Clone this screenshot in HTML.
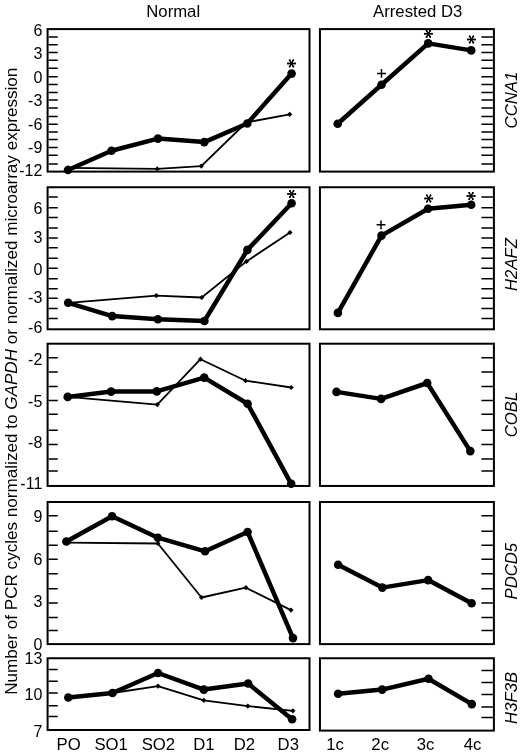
<!DOCTYPE html><html><head><meta charset="utf-8"><style>html,body{margin:0;padding:0;background:#fff;}svg{display:block;will-change:transform;}text{font-family:"Liberation Sans", sans-serif;fill:#000;}</style></head><body>
<svg width="520" height="756" viewBox="0 0 520 756">
<rect width="520" height="756" fill="#fff"/>
<text transform="translate(173.2 16.5) scale(1.045 1)" font-size="16" text-anchor="middle">Normal</text>
<text transform="translate(417.65 16.5) scale(1.045 1)" font-size="16" text-anchor="middle">Arrested D3</text>
<rect x="47.6" y="29.1" width="261.9" height="142.5" fill="none" stroke="#000" stroke-width="2"/>
<rect x="319.95" y="29.1" width="173.95" height="142.5" fill="none" stroke="#000" stroke-width="2"/>
<path d="M48.6 37.1H57.8M48.6 44.8H57.8M48.6 52.5H57.8M48.6 60.3H57.8M48.6 68.3H57.8M48.6 76.8H57.8M48.6 84.5H57.8M48.6 92.5H57.8M48.6 100.1H57.8M48.6 107.9H57.8M48.6 116.5H57.8M48.6 124.3H57.8M48.6 132H57.8M48.6 139.5H57.8M48.6 147.5H57.8M48.6 155.2H57.8M48.6 164H57.8M492.9 37.1H481.4M492.9 44.8H481.4M492.9 52.5H481.4M492.9 60.3H481.4M492.9 68.3H481.4M492.9 76.8H481.4M492.9 84.5H481.4M492.9 92.5H481.4M492.9 100.1H481.4M492.9 107.9H481.4M492.9 116.5H481.4M492.9 124.3H481.4M492.9 132H481.4M492.9 139.5H481.4M492.9 147.5H481.4M492.9 155.2H481.4M492.9 164H481.4" stroke="#000" stroke-width="1.5" fill="none"/>
<text x="42.3" y="35.9" font-size="16" text-anchor="end">6</text>
<text x="42.3" y="59.3" font-size="16" text-anchor="end">3</text>
<text x="42.3" y="83" font-size="16" text-anchor="end">0</text>
<text x="42.3" y="106.25" font-size="16" text-anchor="end">-3</text>
<text x="42.3" y="129.8" font-size="16" text-anchor="end">-6</text>
<text x="42.3" y="153" font-size="16" text-anchor="end">-9</text>
<text x="42.3" y="176.3" font-size="16" text-anchor="end">-12</text>
<rect x="47.6" y="187.25" width="261.9" height="142.05" fill="none" stroke="#000" stroke-width="2"/>
<rect x="319.95" y="187.25" width="173.95" height="142.05" fill="none" stroke="#000" stroke-width="2"/>
<path d="M48.6 196.9H57.8M48.6 207.8H57.8M48.6 217.6H57.8M48.6 228.1H57.8M48.6 238H57.8M48.6 247.7H57.8M48.6 258.3H57.8M48.6 268.3H57.8M48.6 278.8H57.8M48.6 288.7H57.8M48.6 298.2H57.8M48.6 308.6H57.8M48.6 318.6H57.8M492.9 196.9H481.4M492.9 207.8H481.4M492.9 217.6H481.4M492.9 228.1H481.4M492.9 238H481.4M492.9 247.7H481.4M492.9 258.3H481.4M492.9 268.3H481.4M492.9 278.8H481.4M492.9 288.7H481.4M492.9 298.2H481.4M492.9 308.6H481.4M492.9 318.6H481.4" stroke="#000" stroke-width="1.5" fill="none"/>
<text x="42.3" y="213.9" font-size="16" text-anchor="end">6</text>
<text x="42.3" y="243.3" font-size="16" text-anchor="end">3</text>
<text x="42.3" y="274.5" font-size="16" text-anchor="end">0</text>
<text x="42.3" y="303.25" font-size="16" text-anchor="end">-3</text>
<text x="42.3" y="333.1" font-size="16" text-anchor="end">-6</text>
<rect x="47.6" y="343.7" width="261.9" height="142.25" fill="none" stroke="#000" stroke-width="2"/>
<rect x="319.95" y="343.7" width="173.95" height="142.25" fill="none" stroke="#000" stroke-width="2"/>
<path d="M48.6 357.8H57.8M48.6 372.1H57.8M48.6 386.4H57.8M48.6 400.4H57.8M48.6 414.3H57.8M48.6 430.3H57.8M48.6 444.4H57.8M48.6 458.9H57.8M48.6 471.1H57.8M492.9 357.8H481.4M492.9 372.1H481.4M492.9 386.4H481.4M492.9 400.4H481.4M492.9 414.3H481.4M492.9 430.3H481.4M492.9 444.4H481.4M492.9 458.9H481.4M492.9 471.1H481.4" stroke="#000" stroke-width="1.5" fill="none"/>
<text x="42.3" y="365.2" font-size="16" text-anchor="end">-2</text>
<text x="42.3" y="406.7" font-size="16" text-anchor="end">-5</text>
<text x="42.3" y="448" font-size="16" text-anchor="end">-8</text>
<text x="42.3" y="489.4" font-size="16" text-anchor="end">-11</text>
<rect x="47.6" y="502" width="261.9" height="142.1" fill="none" stroke="#000" stroke-width="2"/>
<rect x="319.95" y="502" width="173.95" height="142.1" fill="none" stroke="#000" stroke-width="2"/>
<path d="M48.6 515.8H57.8M48.6 531.2H57.8M48.6 545.3H57.8M48.6 559.3H57.8M48.6 573.8H57.8M48.6 588.7H57.8M48.6 603.1H57.8M48.6 617.4H57.8M48.6 630.6H57.8M492.9 515.8H481.4M492.9 531.2H481.4M492.9 545.3H481.4M492.9 559.3H481.4M492.9 573.8H481.4M492.9 588.7H481.4M492.9 603.1H481.4M492.9 617.4H481.4M492.9 630.6H481.4" stroke="#000" stroke-width="1.5" fill="none"/>
<text x="42.3" y="521.9" font-size="16" text-anchor="end">9</text>
<text x="42.3" y="564.5" font-size="16" text-anchor="end">6</text>
<text x="42.3" y="607" font-size="16" text-anchor="end">3</text>
<text x="42.3" y="649.9" font-size="16" text-anchor="end">0</text>
<rect x="47.6" y="658.25" width="261.9" height="71.75" fill="none" stroke="#000" stroke-width="2"/>
<rect x="319.95" y="658.25" width="173.95" height="72.35" fill="none" stroke="#000" stroke-width="2"/>
<path d="M48.6 669.4H57.8M48.6 681.2H57.8M48.6 693H57.8M48.6 705.8H57.8M48.6 716.4H57.8M492.9 670.4H481.4M492.9 682.4H481.4M492.9 694.4H481.4M492.9 707.1H481.4M492.9 717.4H481.4" stroke="#000" stroke-width="1.5" fill="none"/>
<text x="42.3" y="664.3" font-size="16" text-anchor="end">13</text>
<text x="42.3" y="700.4" font-size="16" text-anchor="end">10</text>
<text x="42.3" y="736.9" font-size="16" text-anchor="end">7</text>
<polyline points="68,167.8 157.3,168.9 201.3,166.1 246.2,122.5 289.7,114.3" fill="none" stroke="#000" stroke-width="1.8" stroke-linejoin="round"/>
<path d="M68 165.2L70.6 167.8L68 170.4L65.4 167.8ZM157.3 166.3L159.9 168.9L157.3 171.5L154.7 168.9ZM201.3 163.5L203.9 166.1L201.3 168.7L198.7 166.1ZM246.2 119.9L248.8 122.5L246.2 125.1L243.6 122.5ZM289.7 111.7L292.3 114.3L289.7 116.9L287.1 114.3Z" fill="#000"/>
<polyline points="68,170 111.5,150.7 157.9,138.6 204.3,142.1 247.3,123.5 291.6,73.6" fill="none" stroke="#000" stroke-width="4.5" stroke-linejoin="round"/>
<circle cx="68" cy="170" r="4.3"/><circle cx="111.5" cy="150.7" r="4.3"/><circle cx="157.9" cy="138.6" r="4.3"/><circle cx="204.3" cy="142.1" r="4.3"/><circle cx="247.3" cy="123.5" r="4.3"/><circle cx="291.6" cy="73.6" r="4.3"/>
<polyline points="337.7,123.7 381.5,84.8 428.2,43.4 471.2,50.4" fill="none" stroke="#000" stroke-width="4.5" stroke-linejoin="round"/>
<circle cx="337.7" cy="123.7" r="4.3"/><circle cx="381.5" cy="84.8" r="4.3"/><circle cx="428.2" cy="43.4" r="4.3"/><circle cx="471.2" cy="50.4" r="4.3"/>
<polyline points="68.2,302.8 156.3,295.6 201.7,297.5 246.5,261.4 290,232.5" fill="none" stroke="#000" stroke-width="1.8" stroke-linejoin="round"/>
<path d="M68.2 300.2L70.8 302.8L68.2 305.4L65.6 302.8ZM156.3 293L158.9 295.6L156.3 298.2L153.7 295.6ZM201.7 294.9L204.3 297.5L201.7 300.1L199.1 297.5ZM246.5 258.8L249.1 261.4L246.5 264L243.9 261.4ZM290 229.9L292.6 232.5L290 235.1L287.4 232.5Z" fill="#000"/>
<polyline points="68.2,302.8 112.2,316.1 157.9,319.2 204.4,321 247.4,249.9 291.6,203.2" fill="none" stroke="#000" stroke-width="4.5" stroke-linejoin="round"/>
<circle cx="68.2" cy="302.8" r="4.3"/><circle cx="112.2" cy="316.1" r="4.3"/><circle cx="157.9" cy="319.2" r="4.3"/><circle cx="204.4" cy="321" r="4.3"/><circle cx="247.4" cy="249.9" r="4.3"/><circle cx="291.6" cy="203.2" r="4.3"/>
<polyline points="337.9,312.9 381.5,235.6 428.1,208.7 471.2,204.8" fill="none" stroke="#000" stroke-width="4.5" stroke-linejoin="round"/>
<circle cx="337.9" cy="312.9" r="4.3"/><circle cx="381.5" cy="235.6" r="4.3"/><circle cx="428.1" cy="208.7" r="4.3"/><circle cx="471.2" cy="204.8" r="4.3"/>
<polyline points="67.7,396.9 157.3,404.6 200.5,359.2 245.6,380.7 291.2,387.5" fill="none" stroke="#000" stroke-width="1.8" stroke-linejoin="round"/>
<path d="M67.7 394.3L70.3 396.9L67.7 399.5L65.1 396.9ZM157.3 402L159.9 404.6L157.3 407.2L154.7 404.6ZM200.5 356.6L203.1 359.2L200.5 361.8L197.9 359.2ZM245.6 378.1L248.2 380.7L245.6 383.3L243 380.7ZM291.2 384.9L293.8 387.5L291.2 390.1L288.6 387.5Z" fill="#000"/>
<polyline points="67.7,396.9 111.1,391.6 156.8,391.4 204.2,377.6 247.6,403.8 291.2,483.8" fill="none" stroke="#000" stroke-width="4.5" stroke-linejoin="round"/>
<circle cx="67.7" cy="396.9" r="4.3"/><circle cx="111.1" cy="391.6" r="4.3"/><circle cx="156.8" cy="391.4" r="4.3"/><circle cx="204.2" cy="377.6" r="4.3"/><circle cx="247.6" cy="403.8" r="4.3"/><circle cx="291.2" cy="483.8" r="4.3"/>
<polyline points="336.5,391.9 381.1,398.9 427.2,383 470.3,451.1" fill="none" stroke="#000" stroke-width="4.5" stroke-linejoin="round"/>
<circle cx="336.5" cy="391.9" r="4.3"/><circle cx="381.1" cy="398.9" r="4.3"/><circle cx="427.2" cy="383" r="4.3"/><circle cx="470.3" cy="451.1" r="4.3"/>
<polyline points="66.4,542.6 157.9,543.5 201.5,597.5 245.9,587.7 291,610.1" fill="none" stroke="#000" stroke-width="1.8" stroke-linejoin="round"/>
<path d="M66.4 540L69 542.6L66.4 545.2L63.8 542.6ZM157.9 540.9L160.5 543.5L157.9 546.1L155.3 543.5ZM201.5 594.9L204.1 597.5L201.5 600.1L198.9 597.5ZM245.9 585.1L248.5 587.7L245.9 590.3L243.3 587.7ZM291 607.5L293.6 610.1L291 612.7L288.4 610.1Z" fill="#000"/>
<polyline points="66.4,541.5 112.1,516.2 157.9,537.7 205.1,551.3 247.6,532 293,638.1" fill="none" stroke="#000" stroke-width="4.5" stroke-linejoin="round"/>
<circle cx="66.4" cy="541.5" r="4.3"/><circle cx="112.1" cy="516.2" r="4.3"/><circle cx="157.9" cy="537.7" r="4.3"/><circle cx="205.1" cy="551.3" r="4.3"/><circle cx="247.6" cy="532" r="4.3"/><circle cx="293" cy="638.1" r="4.3"/>
<polyline points="338.1,564.8 382.3,587.6 428.1,580.1 471.6,603.2" fill="none" stroke="#000" stroke-width="4.5" stroke-linejoin="round"/>
<circle cx="338.1" cy="564.8" r="4.3"/><circle cx="382.3" cy="587.6" r="4.3"/><circle cx="428.1" cy="580.1" r="4.3"/><circle cx="471.6" cy="603.2" r="4.3"/>
<polyline points="68.3,697.5 112.5,693 158,686.1 203.8,700.3 247.8,706.1 292.9,710.8" fill="none" stroke="#000" stroke-width="1.8" stroke-linejoin="round"/>
<path d="M68.3 694.9L70.9 697.5L68.3 700.1L65.7 697.5ZM112.5 690.4L115.1 693L112.5 695.6L109.9 693ZM158 683.5L160.6 686.1L158 688.7L155.4 686.1ZM203.8 697.7L206.4 700.3L203.8 702.9L201.2 700.3ZM247.8 703.5L250.4 706.1L247.8 708.7L245.2 706.1ZM292.9 708.2L295.5 710.8L292.9 713.4L290.3 710.8Z" fill="#000"/>
<polyline points="68.3,697.5 112.5,693 158,673 203.8,689.6 248.1,683.5 292.1,719.3" fill="none" stroke="#000" stroke-width="4.5" stroke-linejoin="round"/>
<circle cx="68.3" cy="697.5" r="4.3"/><circle cx="112.5" cy="693" r="4.3"/><circle cx="158" cy="673" r="4.3"/><circle cx="203.8" cy="689.6" r="4.3"/><circle cx="248.1" cy="683.5" r="4.3"/><circle cx="292.1" cy="719.3" r="4.3"/>
<polyline points="338.1,693.7 382.2,689.6 428.5,678.8 471.8,704.1" fill="none" stroke="#000" stroke-width="4.5" stroke-linejoin="round"/>
<circle cx="338.1" cy="693.7" r="4.3"/><circle cx="382.2" cy="689.6" r="4.3"/><circle cx="428.5" cy="678.8" r="4.3"/><circle cx="471.8" cy="704.1" r="4.3"/>
<path d="M287.75 63.4L295.25 63.4M289.62 60.15L293.38 66.65M293.38 60.15L289.62 66.65M424.65 33.8L432.15 33.8M426.52 30.55L430.27 37.05M430.27 30.55L426.52 37.05M467.75 39.5L475.25 39.5M469.62 36.25L473.38 42.75M473.38 36.25L469.62 42.75M287.95 194L295.45 194M289.82 190.75L293.57 197.25M293.57 190.75L289.82 197.25M424.95 198.5L432.45 198.5M426.82 195.25L430.57 201.75M430.57 195.25L426.82 201.75M467.25 196L474.75 196M469.12 192.75L472.88 199.25M472.88 192.75L469.12 199.25" stroke="#000" stroke-width="1.45" stroke-linecap="round" fill="none"/>
<circle cx="287.95" cy="63.4" r="1.0"/><circle cx="295.05" cy="63.4" r="1.0"/><circle cx="289.73" cy="60.33" r="1.0"/><circle cx="293.27" cy="66.47" r="1.0"/><circle cx="293.27" cy="60.33" r="1.0"/><circle cx="289.73" cy="66.47" r="1.0"/><circle cx="424.85" cy="33.8" r="1.0"/><circle cx="431.95" cy="33.8" r="1.0"/><circle cx="426.62" cy="30.73" r="1.0"/><circle cx="430.17" cy="36.87" r="1.0"/><circle cx="430.17" cy="30.73" r="1.0"/><circle cx="426.62" cy="36.87" r="1.0"/><circle cx="467.95" cy="39.5" r="1.0"/><circle cx="475.05" cy="39.5" r="1.0"/><circle cx="469.73" cy="36.43" r="1.0"/><circle cx="473.27" cy="42.57" r="1.0"/><circle cx="473.27" cy="36.43" r="1.0"/><circle cx="469.73" cy="42.57" r="1.0"/><circle cx="288.15" cy="194" r="1.0"/><circle cx="295.25" cy="194" r="1.0"/><circle cx="289.93" cy="190.93" r="1.0"/><circle cx="293.47" cy="197.07" r="1.0"/><circle cx="293.47" cy="190.93" r="1.0"/><circle cx="289.93" cy="197.07" r="1.0"/><circle cx="425.15" cy="198.5" r="1.0"/><circle cx="432.25" cy="198.5" r="1.0"/><circle cx="426.93" cy="195.43" r="1.0"/><circle cx="430.47" cy="201.57" r="1.0"/><circle cx="430.47" cy="195.43" r="1.0"/><circle cx="426.93" cy="201.57" r="1.0"/><circle cx="467.45" cy="196" r="1.0"/><circle cx="474.55" cy="196" r="1.0"/><circle cx="469.23" cy="192.93" r="1.0"/><circle cx="472.77" cy="199.07" r="1.0"/><circle cx="472.77" cy="192.93" r="1.0"/><circle cx="469.23" cy="199.07" r="1.0"/>
<path d="M377.1 73.4H385.9M381.5 69V77.8M376.6 224.8H385.4M381 220.4V229.2" stroke="#000" stroke-width="1.5" fill="none"/>
<text transform="translate(68.6 750.3) scale(1.045 1)" font-size="16" text-anchor="middle">PO</text>
<text transform="translate(111.2 750.3) scale(1.045 1)" font-size="16" text-anchor="middle">SO1</text>
<text transform="translate(158.4 750.3) scale(1.045 1)" font-size="16" text-anchor="middle">SO2</text>
<text transform="translate(203.9 750.3) scale(1.045 1)" font-size="16" text-anchor="middle">D1</text>
<text transform="translate(244.4 750.3) scale(1.045 1)" font-size="16" text-anchor="middle">D2</text>
<text transform="translate(288.3 750.3) scale(1.045 1)" font-size="16" text-anchor="middle">D3</text>
<text transform="translate(335.1 750.3) scale(1.045 1)" font-size="16" text-anchor="middle">1c</text>
<text transform="translate(380.2 750.3) scale(1.045 1)" font-size="16" text-anchor="middle">2c</text>
<text transform="translate(425.6 750.3) scale(1.045 1)" font-size="16" text-anchor="middle">3c</text>
<text transform="translate(472.5 750.3) scale(1.045 1)" font-size="16" text-anchor="middle">4c</text>
<text transform="translate(517.3 100.1) rotate(-90) scale(1.045 1)" font-size="16" font-style="italic" text-anchor="middle">CCNA1</text>
<text transform="translate(517.3 264.5) rotate(-90) scale(1.045 1)" font-size="16" font-style="italic" text-anchor="middle">H2AFZ</text>
<text transform="translate(517.3 414.5) rotate(-90) scale(1.045 1)" font-size="16" font-style="italic" text-anchor="middle">COBL</text>
<text transform="translate(517.3 571.2) rotate(-90) scale(1.045 1)" font-size="16" font-style="italic" text-anchor="middle">PDCD5</text>
<text transform="translate(517.3 697.9) rotate(-90) scale(1.045 1)" font-size="16" font-style="italic" text-anchor="middle">H3F3B</text>
<text transform="translate(17.1 381.25) rotate(-90) scale(1.037 1)" font-size="16.5" text-anchor="middle">Number of PCR cycles normalized to <tspan font-style="italic">GAPDH</tspan> or normalized microarray expression</text>
</svg></body></html>
